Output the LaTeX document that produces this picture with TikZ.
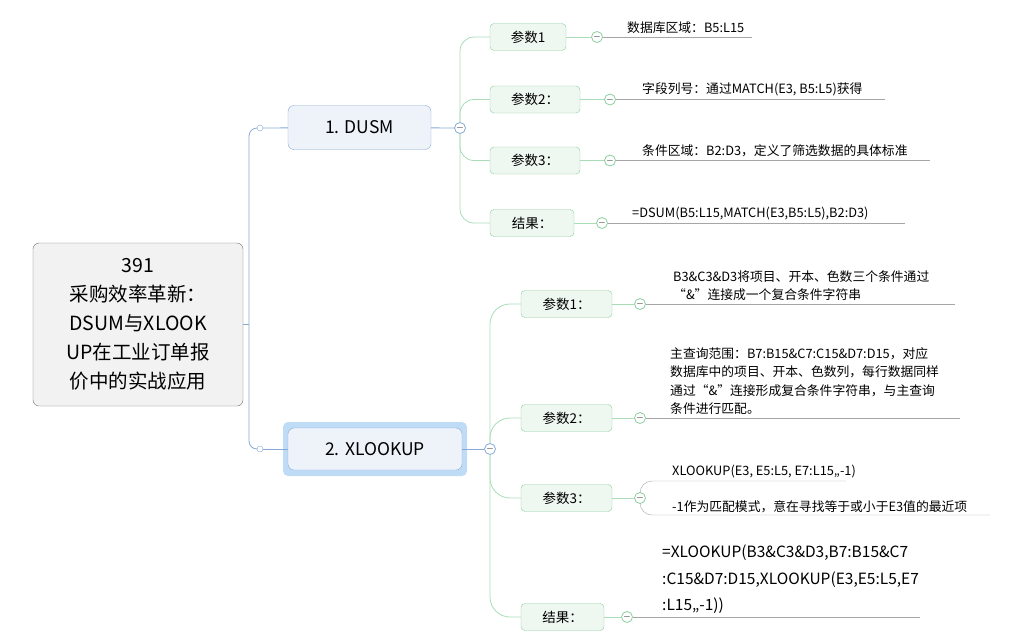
\documentclass[tikz,border=0pt]{standalone}
\usepackage{fontspec}
\setmainfont{Noto Sans CJK SC}
\usetikzlibrary{positioning}
\definecolor{rootfill}{HTML}{F2F2F2}
\definecolor{rootline}{HTML}{707070}
\definecolor{mainfill}{HTML}{EEF3FA}
\definecolor{mainline}{HTML}{86A9D6}
\definecolor{glow}{HTML}{BFDCF7}
\definecolor{subfill}{HTML}{EEF7F0}
\definecolor{subline}{HTML}{8CCF9F}
\definecolor{branch}{HTML}{A8DDB8}
\definecolor{leafline}{HTML}{A6A6A6}
\tikzstyle{root} = [rectangle, draw = rootline, fill = rootfill, rounded corners = 6pt, minimum width = 210pt, minimum height = 163pt, align = center, font = \fontsize{19.5}{29}\selectfont]
\tikzstyle{main} = [rectangle, draw = mainline, fill = mainfill, rounded corners = 6pt, minimum height = 44pt, font = \fontsize{17.5}{20}\selectfont]
\tikzstyle{sub} = [rectangle, draw = subline, fill = subfill, rounded corners = 4pt, minimum height = 27pt, font = \fontsize{13.5}{15}\selectfont]
\tikzstyle{knob} = [circle, draw = #1, thick, fill = white, inner sep = 0pt, minimum size = 11pt, font = \fontsize{10}{10}\selectfont]
\tikzstyle{dot} = [circle, draw = mainline, fill = white, inner sep = 0pt, minimum size = 6pt]
\tikzstyle{leaf} = [anchor = south west, inner sep = 1pt, align = left, font = \fontsize{12.8}{18.5}\selectfont]
\tikzstyle{blue} = [draw = mainline, thick]
\tikzstyle{green} = [draw = branch, thick, rounded corners = 14pt]
\tikzstyle{gray} = [draw = leafline]

\begin{document}
\begin{tikzpicture}[x = 1pt, y = -1pt]
            \useasboundingbox (0, 0) rectangle (1024, 632);
            % root and main topics
            \node[root] (r) at (138, 324.5) {391\\采购效率革新：\\DSUM与XLOOK\\UP在工业订单报\\价中的实战应用};
            \node[main, minimum width = 143pt] (m1) at (359.5, 127.5) {1. DUSM};
            \fill[glow, rounded corners = 5pt] (283, 422) rectangle (467, 476);
            \node[main, minimum width = 174pt, minimum height = 42pt] (m2) at (375, 449) {2. XLOOKUP};
            \coordinate (r0) at (249, 324.5);
            \node[dot] (d1) at (260, 128) {};
            \node[dot] (d2) at (260, 449) {};
            \path[blue] (r) -- (r0);
            \path[blue, rounded corners = 8pt] (r0) |- (d1);
            \path[blue, rounded corners = 8pt] (r0) |- (d2);
            \path[blue] (d1) -- (m1);
            \path[blue] (d2) -- (m2);
            \node[knob = mainline] (k1) at (460, 128) {$-$};
            \node[knob = mainline] (k2) at (490, 449) {$-$};
            \path[blue] (m1) -- (k1);
            \path[blue] (m2) -- (k2);

            % DUSM branch
            \node[sub, minimum width = 76pt] (a1) at (528, 37) {参数1};
            \node[sub, minimum width = 90pt] (a2) at (535, 99.5) {参数2：};
            \node[sub, minimum width = 90pt] (a3) at (535, 160.5) {参数3：};
            \node[sub, minimum width = 84pt] (a4) at (532, 223) {结果：};
            \node[knob = subline] (ka1) at (597, 37) {$-$};
            \node[knob = subline] (ka2) at (610, 99.5) {$-$};
            \node[knob = subline] (ka3) at (610, 160.5) {$-$};
            \node[knob = subline] (ka4) at (602, 223) {$-$};
            \foreach \i in {1, ..., 4} {
                \path[green] (k1) |- (a\i.west);
                \path[draw = branch, thick] (a\i) -- (ka\i);
            }
            \coordinate (ea1) at (752, 37);
            \coordinate (ea2) at (885, 99.5);
            \coordinate (ea3) at (930, 160.5);
            \coordinate (ea4) at (905, 223);
            \path[gray] (ka1) -- (ea1);
            \path[gray] (ka2) -- (ea2);
            \path[gray] (ka3) -- (ea3);
            \path[gray] (ka4) -- (ea4);
            \node[leaf] at (626, 35) {数据库区域：B5:L15};
            \node[leaf] at (641, 97) {字段列号：通过MATCH(E3, B5:L5)获得};
            \node[leaf] at (641, 158) {条件区域：B2:D3，定义了筛选数据的具体标准};
            \node[leaf] at (631, 221) {=DSUM(B5:L15,MATCH(E3,B5:L5),B2:D3)};

            % XLOOKUP branch
            \node[sub, minimum width = 91pt] (b1) at (566.5, 304) {参数1：};
            \node[sub, minimum width = 91pt] (b2) at (566.5, 418) {参数2：};
            \node[sub, minimum width = 91pt] (b3) at (566.5, 498) {参数3：};
            \node[sub, minimum width = 83pt] (b4) at (562.5, 617) {结果：};
            \node[knob = subline] (kb1) at (640, 304) {$-$};
            \node[knob = subline] (kb2) at (640, 418) {$-$};
            \node[knob = subline] (kb3) at (640, 498) {$-$};
            \node[knob = subline] (kb4) at (627, 617) {$-$};
            \foreach \i in {1, ..., 4} {
                \path[green, rounded corners = 20pt] (k2) |- (b\i.west);
                \path[draw = branch, thick] (b\i) -- (kb\i);
            }
            \coordinate (eb1) at (955, 304);
            \coordinate (eb2) at (960, 418);
            \coordinate (eb3) at (846, 481);
            \coordinate (eb5) at (990, 515);
            \coordinate (eb4) at (920, 617);
            \path[gray] (kb1) -- (eb1);
            \path[gray] (kb2) -- (eb2);
            \path[gray, rounded corners = 12pt] (kb3.north) |- (eb3);
            \path[gray, rounded corners = 12pt] (kb3.south) |- (eb5);
            \path[gray] (kb4) -- (eb4);
            \node[leaf] at (672, 302) {B3\&C3\&D3将项目、开本、色数三个条件通过\\“\&”连接成一个复合条件字符串};
            \node[leaf] at (669, 416) {主查询范围：B7:B15\&C7:C15\&D7:D15，对应\\数据库中的项目、开本、色数列，每行数据同样\\通过“\&”连接形成复合条件字符串，与主查询\\条件进行匹配。};
            \node[leaf] at (671, 479) {XLOOKUP(E3, E5:L5, E7:L15,,-1)};
            \node[leaf] at (671, 514) {-1作为匹配模式，意在寻找等于或小于E3值的最近项};
            \node[leaf, font = \fontsize{15.5}{26.5}\selectfont] at (661, 615) {=XLOOKUP(B3\&C3\&D3,B7:B15\&C7\\:C15\&D7:D15,XLOOKUP(E3,E5:L5,E7\\:L15,,-1))};
        \end{tikzpicture}
\end{document}
